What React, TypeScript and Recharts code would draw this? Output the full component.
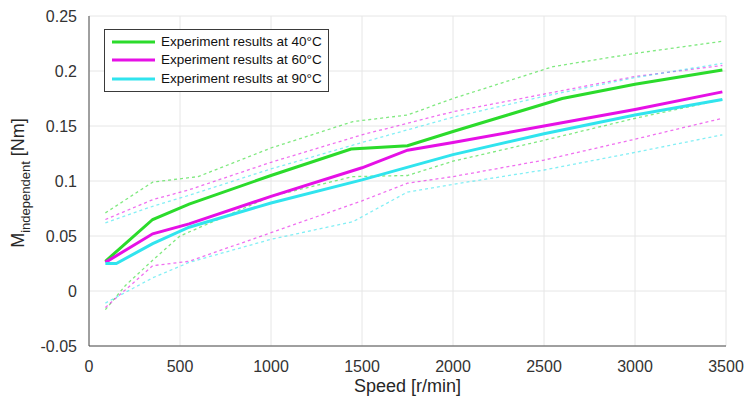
import React from 'react'
import {
  LineChart,
  Line,
  XAxis,
  YAxis,
  CartesianGrid,
  Legend
} from 'recharts'

document.body.style.margin = '0'

// speeds [r/min] and torque [Nm]
const speed40 = [90, 350, 550, 1000, 1440, 1750, 2000, 2300, 2600, 3000, 3480]
const mean40 = [0.027, 0.065, 0.079, 0.105, 0.129, 0.132, 0.145, 0.16, 0.175, 0.188, 0.201]
const speed40Up = [90, 350, 600, 1000, 1450, 1750, 2000, 2550, 3000, 3480]
const upper40 = [0.071, 0.099, 0.104, 0.13, 0.154, 0.16, 0.175, 0.204, 0.216, 0.227]
const speed40Low = [90, 200, 350, 500, 1000, 1450, 1750, 2000, 2500, 3000, 3480]
const lower40 = [-0.017, 0.005, 0.028, 0.05, 0.086, 0.104, 0.105, 0.118, 0.137, 0.157, 0.174]

const speed60 = [90, 350, 550, 1000, 1500, 1750, 2000, 2500, 3000, 3480]
const mean60 = [0.026, 0.052, 0.061, 0.086, 0.112, 0.128, 0.135, 0.15, 0.165, 0.181]
const speed60Up = [90, 350, 550, 1000, 1500, 2000, 2500, 3000, 3480]
const upper60 = [0.065, 0.083, 0.092, 0.117, 0.142, 0.163, 0.179, 0.195, 0.205]
const speed60Low = [90, 350, 550, 1000, 1500, 1750, 2000, 2500, 3000, 3480]
const lower60 = [-0.015, 0.023, 0.027, 0.053, 0.082, 0.098, 0.104, 0.119, 0.138, 0.157]

const speed90 = [90, 150, 350, 550, 1000, 1500, 2000, 2500, 3000, 3480]
const mean90 = [0.025, 0.025, 0.043, 0.058, 0.08, 0.101, 0.124, 0.143, 0.16, 0.174]
const speed90Up = [90, 350, 550, 1000, 1500, 2000, 2500, 3000, 3480]
const upper90 = [0.062, 0.077, 0.087, 0.111, 0.135, 0.158, 0.177, 0.194, 0.207]
const speed90Low = [90, 350, 550, 1000, 1450, 1750, 2000, 2500, 3000, 3480]
const lower90 = [-0.011, 0.012, 0.026, 0.047, 0.063, 0.09, 0.097, 0.11, 0.126, 0.142]

const xTicks = [0, 500, 1000, 1500, 2000, 2500, 3000, 3500]
const yTicks = [-0.05, 0, 0.05, 0.1, 0.15, 0.2, 0.25]

const legendNames = [
  'Experiment results at 40°C',
  'Experiment results at 60°C',
  'Experiment results at 90°C'
]

const GREEN = '#2bdb2b'
const MAGENTA = '#e610e6'
const CYAN = '#30e4ee'
const FONT = '"Liberation Sans", Arial, Helvetica, sans-serif'

const zip = (xs: number[], ys: number[]) => xs.map((x, i) => ({ x, y: ys[i] }))

const solidSeries = [
  { name: legendNames[0], data: zip(speed40, mean40), color: GREEN },
  { name: legendNames[1], data: zip(speed60, mean60), color: MAGENTA },
  { name: legendNames[2], data: zip(speed90, mean90), color: CYAN }
]

const dashedSeries = [
  { key: 'up40', data: zip(speed40Up, upper40), color: GREEN },
  { key: 'low40', data: zip(speed40Low, lower40), color: GREEN },
  { key: 'up60', data: zip(speed60Up, upper60), color: MAGENTA },
  { key: 'low60', data: zip(speed60Low, lower60), color: MAGENTA },
  { key: 'up90', data: zip(speed90Up, upper90), color: CYAN },
  { key: 'low90', data: zip(speed90Low, lower90), color: CYAN }
]

const YLabel = ({ viewBox }: any) => {
  const cx = 24
  const cy = viewBox ? viewBox.y + viewBox.height / 2 + 2 : 182
  return (
    <text
      transform={`translate(${cx},${cy}) rotate(-90)`}
      textAnchor="middle"
      fontFamily={FONT}
      fontSize={18}
      fill="#262626"
    >
      <tspan>M</tspan>
      <tspan dy={6} fontSize={13}>independent</tspan>
      <tspan dy={-6}> [Nm]</tspan>
    </text>
  )
}

const LegendBox = () => (
  <div
    style={{
      border: '1px solid #3a3a3a',
      background: '#fff',
      padding: '3px 6px 3px 6px',
      fontFamily: FONT,
      fontSize: 13.5,
      color: '#111',
      lineHeight: '18.3px'
    }}
  >
    {solidSeries.map((s) => (
      <div key={s.name} style={{ display: 'flex', alignItems: 'center', whiteSpace: 'nowrap' }}>
        <svg width={44} height={10} style={{ marginRight: 6 }}>
          <line x1={1} y1={5} x2={44} y2={5} stroke={s.color} strokeWidth={3} />
        </svg>
        <span>{s.name}</span>
      </div>
    ))}
  </div>
)

export default function App() {
  return (
    <LineChart
      width={745}
      height={399}
      margin={{ top: 16, right: 19, left: 0, bottom: 0 }}
      style={{ background: '#fff' }}
    >
      <CartesianGrid stroke="#e6e6e6" strokeWidth={1} />
      <XAxis
        type="number"
        dataKey="x"
        domain={[0, 3500]}
        ticks={xTicks}
        allowDataOverflow
        height={53}
        stroke="#4d4d4d"
        tickLine={false}
        tickMargin={9}
        tick={{ fill: '#333', fontSize: 16, fontFamily: FONT }}
        label={{
          value: 'Speed [r/min]',
          position: 'insideBottom',
          offset: 7,
          fill: '#262626',
          fontSize: 18,
          fontFamily: FONT
        }}
      />
      <YAxis
        type="number"
        domain={[-0.05, 0.25]}
        ticks={yTicks}
        allowDataOverflow
        width={89}
        stroke="#4d4d4d"
        tickLine={false}
        tickMargin={6}
        tick={{ fill: '#333', fontSize: 16, fontFamily: FONT }}
        label={<YLabel />}
      />
      {dashedSeries.map((s) => (
        <Line
          key={s.key}
          data={s.data}
          dataKey="y"
          type="linear"
          stroke={s.color}
          strokeOpacity={0.6}
          strokeWidth={1.3}
          strokeDasharray="3 3"
          dot={false}
          legendType="none"
          isAnimationActive={false}
        />
      ))}
      {solidSeries.map((s) => (
        <Line
          key={s.name}
          name={s.name}
          data={s.data}
          dataKey="y"
          type="linear"
          stroke={s.color}
          strokeWidth={3}
          dot={false}
          isAnimationActive={false}
        />
      ))}
      <Legend
        layout="vertical"
        align="center"
        verticalAlign="middle"
        content={<LegendBox />}
        wrapperStyle={{ left: 104, top: 29, width: 'auto', height: 'auto' }}
      />
    </LineChart>
  )
}
